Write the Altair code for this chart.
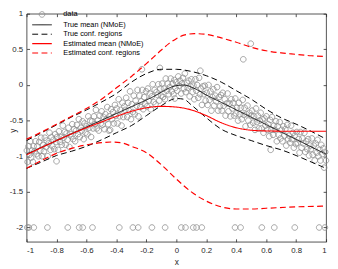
import altair as alt
import pandas as pd

series_names = ["data", "True mean (NMoE)", "True conf. regions",
                "Estimated mean (NMoE)", "Estimated conf. regions"]

# ---- scattered observations ----
cloud_x = [-0.998,-0.993,-0.987,-0.981,-0.976,-0.970,-0.964,-0.958,-0.953,-0.946,-0.940,-0.934,-0.928,-0.921,-0.915,-0.909,-0.903,
           -0.897,-0.891,-0.884,-0.878,-0.872,-0.866,-0.859,-0.853,-0.847,-0.840,-0.834,-0.828,-0.821,-0.815,-0.809,-0.802,
           -0.796,-0.790,-0.784,-0.777,-0.771,-0.765,-0.758,-0.752,-0.746,-0.739,-0.733,-0.727,-0.720,-0.714,-0.708,-0.701,
           -0.695,-0.689,-0.683,-0.676,-0.670,-0.664,-0.657,-0.651,-0.645,-0.638,-0.632,-0.626,-0.619,-0.613,-0.607,-0.600,
           -0.594,-0.588,-0.581,-0.575,-0.569,-0.562,-0.556,-0.550,-0.543,-0.537,-0.531,-0.524,-0.518,-0.512,-0.505,
           -0.499,-0.493,-0.486,-0.480,-0.474,-0.467,-0.461,-0.455,-0.448,-0.442,-0.436,-0.429,-0.423,-0.417,-0.410,-0.404,
           -0.398,-0.392,-0.385,-0.379,-0.373,-0.366,-0.360,-0.354,-0.347,-0.341,-0.335,-0.328,-0.322,-0.316,-0.309,-0.303,
           -0.297,-0.291,-0.284,-0.278,-0.272,-0.265,-0.259,-0.253,-0.246,-0.240,-0.234,-0.227,-0.221,-0.215,-0.208,-0.202,
           -0.196,-0.190,-0.183,-0.177,-0.171,-0.164,-0.158,-0.152,-0.145,-0.139,-0.133,-0.126,-0.120,-0.114,-0.107,-0.101,
           -0.095,-0.089,-0.082,-0.076,-0.070,-0.063,-0.057,-0.051,-0.044,-0.038,-0.032,-0.025,-0.019,-0.013,-0.006,0.000,
           0.006,0.013,0.019,0.025,0.032,0.038,0.044,0.051,0.057,0.063,0.070,0.076,0.082,0.089,0.095,
           0.101,0.108,0.114,0.120,0.127,0.133,0.139,0.146,0.152,0.158,0.165,0.171,0.177,0.184,0.190,0.196,
           0.203,0.209,0.215,0.222,0.228,0.234,0.241,0.247,0.253,0.260,0.266,0.272,0.279,0.285,0.291,0.298,
           0.304,0.310,0.317,0.323,0.329,0.336,0.342,0.348,0.355,0.361,0.367,0.374,0.380,0.386,0.393,0.399,
           0.405,0.412,0.418,0.424,0.431,0.437,0.443,0.450,0.456,0.462,0.469,0.475,0.481,0.488,0.494,0.500,
           0.506,0.513,0.519,0.525,0.532,0.538,0.544,0.551,0.557,0.563,0.570,0.576,0.582,0.589,0.595,
           0.601,0.608,0.614,0.620,0.627,0.633,0.639,0.646,0.652,0.658,0.665,0.671,0.677,0.684,0.690,0.696,
           0.703,0.709,0.715,0.722,0.728,0.734,0.741,0.747,0.753,0.760,0.766,0.772,0.779,0.785,0.791,0.798,
           0.804,0.810,0.817,0.823,0.829,0.836,0.842,0.848,0.855,0.861,0.867,0.874,0.880,0.886,0.893,0.899,
           0.905,0.911,0.918,0.924,0.930,0.937,0.943,0.949,0.956,0.962,0.968,0.975,0.981,0.987,0.994,0.999]
cloud_y = [-0.92,-1.08,-0.86,-0.98,-0.79,-1.02,-0.92,-1.08,-0.86,-0.93,-0.79,-0.97,-0.86,-1.00,-0.80,-0.92,-0.74,
           -1.00,-0.84,-0.93,-0.74,-0.87,-0.78,-1.00,-0.82,-0.67,-0.91,-0.73,-0.86,-0.77,-0.90,-0.69,-0.80,
           -0.73,-0.91,-0.65,-0.80,-0.73,-0.84,-0.57,-0.74,-0.66,-0.84,-0.68,-0.77,-0.60,-0.87,-0.69,-0.72,
           -0.55,-0.76,-0.62,-0.79,-0.64,-0.56,-0.69,-0.48,-0.73,-0.60,-0.64,-0.51,-0.76,-0.54,-0.67,-0.58,
           -0.69,-0.44,-0.60,-0.50,-0.73,-0.51,-0.61,-0.44,-0.55,-0.35,-0.61,-0.50,-0.64,-0.43,-0.54,
           -0.37,-0.56,-0.45,-0.62,-0.41,-0.48,-0.31,-0.55,-0.44,-0.63,-0.34,-0.48,-0.38,-0.54,-0.28,-0.43,
           -0.33,-0.54,-0.20,-0.44,-0.35,-0.57,-0.25,-0.45,-0.30,-0.35,-0.18,-0.45,-0.25,-0.36,-0.09,-0.48,
           -0.27,-0.38,-0.15,-0.41,-0.22,-0.29,-0.07,-0.44,-0.15,-0.31,-0.23,-0.07,-0.34,-0.17,-0.26,-0.09,
           -0.30,-0.05,-0.22,-0.12,-0.34,-0.16,0.01,-0.24,-0.07,-0.27,-0.10,-0.14,0.01,-0.22,-0.05,-0.15,
           0.02,-0.17,-0.05,-0.20,0.09,-0.08,0.02,-0.13,-0.03,0.09,-0.09,0.02,-0.13,0.07,-0.04,0.04,
           -0.08,0.12,-0.01,0.06,-0.12,0.02,0.10,-0.05,0.16,-0.10,0.03,-0.04,0.06,-0.16,-0.02,
           0.08,-0.10,-0.01,-0.20,0.08,-0.08,0.00,-0.18,0.10,-0.13,-0.05,-0.28,-0.02,-0.13,-0.01,-0.22,
           -0.11,-0.28,0.00,-0.21,-0.09,-0.36,-0.17,-0.06,-0.29,-0.15,-0.23,-0.03,-0.36,-0.17,-0.30,-0.14,
           -0.36,-0.11,-0.29,-0.20,-0.43,-0.26,-0.12,-0.37,-0.26,-0.44,-0.20,-0.33,-0.25,-0.43,-0.19,-0.40,
           -0.32,-0.50,-0.25,-0.41,-0.32,-0.48,-0.21,-0.42,-0.32,-0.58,-0.41,-0.29,-0.50,-0.39,-0.56,-0.43,
           -0.36,-0.53,-0.44,-0.63,-0.33,-0.52,-0.43,-0.61,-0.50,-0.39,-0.61,-0.48,-0.67,-0.47,-0.57,
           -0.44,-0.63,-0.55,-0.72,-0.49,-0.63,-0.45,-0.70,-0.57,-0.63,-0.51,-0.79,-0.58,-0.70,-0.52,-0.75,
           -0.63,-0.79,-0.58,-0.71,-0.62,-0.85,-0.56,-0.76,-0.71,-0.81,-0.57,-0.76,-0.67,-0.88,-0.71,-0.83,
           -0.66,-0.81,-0.76,-0.95,-0.66,-0.88,-0.75,-0.82,-0.67,-0.94,-0.79,-0.90,-0.76,-0.99,-0.85,-0.90,
           -0.75,-0.98,-0.85,-1.06,-0.82,-0.95,-0.77,-1.00,-0.91,-1.06,-0.84,-0.97,-0.89,-1.16,-0.94,-1.06]

outlier_x = [-0.23, -0.11, -0.01, 0.16, 0.447, 0.497, 0.63, -0.80, -0.45]
outlier_y = [0.22, 0.24, -0.19, 0.20, 0.36, 0.58, -0.91, -1.07, -0.64]

bottom_x = [-0.995, -0.985, -0.952, -0.861, -0.725, -0.649, -0.625, -0.560, -0.381, -0.290,
            -0.255, -0.163, -0.075, 0.033, 0.061, 0.113, 0.135, 0.170, 0.392, 0.429,
            0.571, 0.654, 0.791, 0.954, 0.992]
bottom_y = [-2.0] * len(bottom_x)

# ---- curves ----
tm_x = [-1, -0.8, -0.6, -0.4, -0.3, -0.2, -0.15, -0.1, -0.05, 0, 0.05, 0.1, 0.15, 0.2, 0.3, 0.4, 0.5, 0.6, 0.7, 0.8, 0.9, 1.0]
tm_y = [-0.97, -0.78, -0.59, -0.40, -0.305, -0.21, -0.16, -0.10, -0.045, -0.01, 0.0, -0.03, -0.08, -0.14, -0.244, -0.348, -0.452, -0.556, -0.66, -0.764, -0.868, -0.97]

tu_x = [-1, -0.9, -0.8, -0.7, -0.6, -0.5, -0.4, -0.3, -0.2, -0.1, 0, 0.1, 0.2, 0.3, 0.4, 0.5, 0.6, 0.7, 0.8, 0.9, 1.0]
tu_y = [-0.78, -0.67, -0.56, -0.45, -0.35, -0.24, -0.12, 0.04, 0.16, 0.22, 0.22, 0.19, 0.13, 0.04, -0.08, -0.2, -0.34, -0.46, -0.55, -0.65, -0.76]

tl_x = [-1, -0.9, -0.8, -0.7, -0.6, -0.5, -0.4, -0.3, -0.2, -0.1, 0, 0.05, 0.1, 0.2, 0.3, 0.4, 0.5, 0.6, 0.7, 0.8, 0.9, 1.0]
tl_y = [-1.17, -1.08, -0.99, -0.93, -0.86, -0.77, -0.67, -0.57, -0.43, -0.29, -0.19, -0.2, -0.28, -0.46, -0.62, -0.71, -0.78, -0.85, -0.91, -0.99, -1.08, -1.17]

em_x = [-1, -0.8, -0.6, -0.5, -0.4, -0.3, -0.2, -0.1, 0, 0.1, 0.2, 0.3, 0.4, 0.5, 0.6, 0.8, 1.0]
em_y = [-0.98, -0.78, -0.6, -0.52, -0.44, -0.37, -0.32, -0.30, -0.31, -0.35, -0.43, -0.53, -0.60, -0.635, -0.645, -0.65, -0.65]

eu_x = [-1, -0.9, -0.8, -0.7, -0.6, -0.5, -0.4, -0.3, -0.2, -0.1, -0.05, 0, 0.05, 0.12, 0.2, 0.3, 0.4, 0.5, 0.6, 0.7, 0.8, 0.9, 1.0]
eu_y = [-0.76, -0.66, -0.55, -0.44, -0.33, -0.2, -0.04, 0.12, 0.3, 0.49, 0.58, 0.65, 0.70, 0.72, 0.71, 0.66, 0.6, 0.53, 0.48, 0.45, 0.43, 0.41, 0.40]

el_x = [-1, -0.9, -0.8, -0.7, -0.6, -0.5, -0.43, -0.35, -0.3, -0.2, -0.1, 0, 0.1, 0.2, 0.3, 0.4, 0.5, 0.6, 0.8, 1.0]
el_y = [-1.17, -1.06, -0.96, -0.89, -0.84, -0.81, -0.80, -0.82, -0.86, -0.95, -1.12, -1.32, -1.5, -1.63, -1.71, -1.74, -1.74, -1.73, -1.71, -1.70]

x_ticks = [-1, -0.8, -0.6, -0.4, -0.2, 0, 0.2, 0.4, 0.6, 0.8, 1]
y_ticks = [-2, -1.5, -1, -0.5, 0, 0.5, 1]

# ---- tables ----
pts = pd.DataFrame({
    "x": cloud_x + outlier_x + bottom_x,
    "y": cloud_y + outlier_y + bottom_y,
})
pts["series"] = series_names[0]

curves = []
for sname, cname, xs_, ys_ in [
    (series_names[1], "tm", tm_x, tm_y),
    (series_names[2], "tu", tu_x, tu_y),
    (series_names[2], "tl", tl_x, tl_y),
    (series_names[3], "em", em_x, em_y),
    (series_names[4], "eu", eu_x, eu_y),
    (series_names[4], "el", el_x, el_y),
]:
    curves.append(pd.DataFrame({"x": xs_, "y": ys_, "series": sname, "curve": cname}))
lines = pd.concat(curves, ignore_index=True)

FONT = "Liberation Sans"
AX = "#262626"

# symbol paths in Vega's unit box (scaled by sqrt(size)/2 = 2.5 px per unit)
CIRCLE = "M -1.15 0 A 1.15 1.15 0 1 0 1.15 0 A 1.15 1.15 0 1 0 -1.15 0 Z"
LINE = "M -4 0 L 4 0"

color_scale = alt.Scale(domain=series_names, range=["#8c8c8c", "#000000", "#000000", "#ff0000", "#ff0000"])
dash_scale = alt.Scale(domain=series_names, range=[[1, 0], [1, 0], [6, 3.5], [1, 0], [6, 3.5]])
width_scale = alt.Scale(domain=series_names, range=[0.8, 1.2, 1.0, 2.0, 1.0])
shape_scale = alt.Scale(domain=series_names, range=[CIRCLE, LINE, LINE, LINE, LINE])

leg = alt.Legend(title=None, orient="none", legendX=2, legendY=-3, padding=0,
                 labelFont=FONT, labelFontSize=7.5, labelColor="#000000",
                 symbolSize=25, symbolOffset=10, labelOffset=18,
                 rowPadding=0.6, symbolFillColor="transparent")

lab_expr = "replace(format(datum.value, '.1~f'), '\u2212', '-')"

xs = alt.Scale(domain=[-1, 1], nice=False, zero=False)
ys = alt.Scale(domain=[-2.2, 1], nice=False, zero=False)

x_main = alt.X("x:Q", scale=xs, title="x",
               axis=alt.Axis(values=x_ticks, labelExpr=lab_expr, orient="bottom", offset=-3,
                             tickSize=3, labelPadding=5, titlePadding=3))
y_main = alt.Y("y:Q", scale=ys, title="y",
               axis=alt.Axis(values=y_ticks, labelExpr=lab_expr, orient="left", offset=-3,
                             tickSize=3, labelPadding=4, titleX=-17, titleY=119,
                             titleAngle=270, titleAlign="center", titleBaseline="middle"))

points = alt.Chart(pts).mark_point(filled=False, opacity=1, size=25).encode(
    x=x_main, y=y_main,
    color=alt.Color("series:N", scale=color_scale, legend=leg),
    shape=alt.Shape("series:N", scale=shape_scale, legend=leg),
    strokeWidth=alt.StrokeWidth("series:N", scale=width_scale, legend=leg),
)

curve_layer = alt.Chart(lines).mark_line(interpolate="monotone").encode(
    x=alt.X("x:Q", scale=xs, axis=None),
    y=alt.Y("y:Q", scale=ys, axis=None),
    detail="curve:N",
    color=alt.Color("series:N", scale=color_scale, legend=leg),
    strokeDash=alt.StrokeDash("series:N", scale=dash_scale, legend=leg),
    strokeWidth=alt.StrokeWidth("series:N", scale=width_scale, legend=leg),
)

frame = alt.Chart(pts).mark_point(opacity=0).encode(
    x=alt.X("x:Q", scale=xs, title=None,
            axis=alt.Axis(values=x_ticks, orient="top", offset=-3, tickSize=3, labels=False)),
    y=alt.Y("y:Q", scale=ys, title=None,
            axis=alt.Axis(values=y_ticks, orient="right", offset=-3, tickSize=3, labels=False)),
)

chart = alt.layer(points, curve_layer, frame).resolve_axis(
    x="independent", y="independent"
).properties(
    width=306, height=233,
    padding={"left": 19, "top": 3, "right": 4, "bottom": 25},
    autosize=alt.AutoSizeParams(type="none"),
).configure_view(
    stroke=AX, strokeWidth=0.8
).configure_axis(
    grid=False, domain=False, tickColor=AX, tickWidth=0.8,
    labelFont=FONT, labelFontSize=8, labelColor=AX,
    titleFont=FONT, titleFontSize=8.5, titleColor=AX, titleFontWeight="normal",
)

chart.save("out.html", embed_options={"renderer": "svg", "actions": False})
